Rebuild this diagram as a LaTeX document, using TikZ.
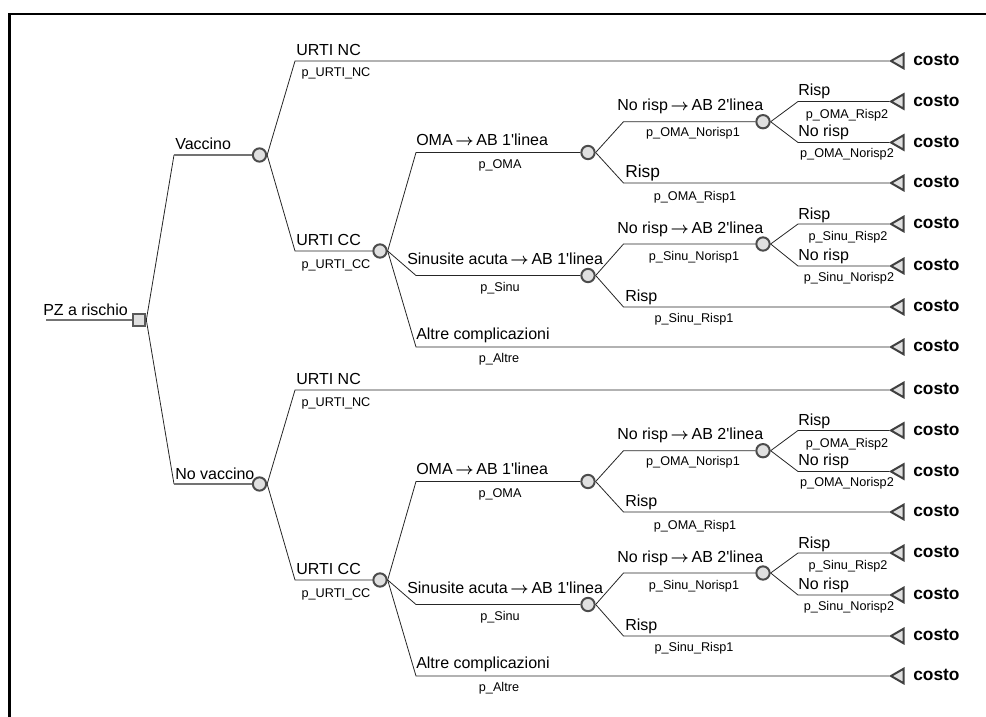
\documentclass[tikz,border=0pt]{standalone}
\usepackage{amsmath}
\usepackage{fontspec}
\setmainfont{Liberation Sans}
\usetikzlibrary{shapes.geometric}

\newcommand{\freccia}{\,$\boldsymbol{\rightarrow}$\,}

\begin{document}
\begin{tikzpicture}[
        x=0.75pt, y=-0.75pt,
        lab/.style={inner sep=0, anchor=base west, font=\fontsize{12}{14}\selectfont},
        plab/.style={inner sep=0, anchor=base, font=\fontsize{9.5}{11}\selectfont},
        costlab/.style={inner sep=0, anchor=mid west, font=\fontsize{13}{15}\selectfont\bfseries},
        chance/.style={circle, draw=black!70, fill=black!12, line width=1.5pt, minimum size=10pt, inner sep=0},
        decision/.style={rectangle, draw=black!65, fill=black!12, line width=2pt, minimum size=9pt, inner sep=0},
        terminal/.style={regular polygon, regular polygon sides=3, shape border rotate=90, anchor=corner 1,
            draw=black!75, fill=black!12, line width=1.5pt, minimum size=12.5pt, inner sep=0},
        branch/.style={draw=black!85, line width=0.6pt},
        trunk/.style={draw=black!55, line width=1pt}
    ]
    \useasboundingbox (0,0) rectangle (986,717);
    \draw[line width=2pt] (9.5,717) -- (9.5,14) -- (986,14);

    \coordinate (start) at (46,320);
    \node[decision] (root) at (139,320) {};
    \draw[trunk] (start) -- (root);
    \node[lab] (rootlab) at (43,315) {PZ a rischio};

    \foreach \dy/\h/\arm/\rsz in {0/v/Vaccino/13, 329/n/No vaccino/12} {
        % terminali
        \foreach \ty [count=\k] in {61,101.5,142.5,183,224,266,307,347} {
            \node[terminal] (\h-t\k) at (889,\ty+\dy) {};
            \node[costlab] (\h-c\k) at (913,\ty+1+\dy) {costo};
        }
        % braccio
        \node[chance] (\h-arm) at (259.5,155+\dy) {};
        \coordinate (\h-e0) at (174,155+\dy);
        \draw[branch] (root.east) -- (\h-e0);
        \draw[trunk] (\h-e0) -- (\h-arm);
        \node[lab] (\h-armlab) at (175,150+\dy) {\arm};
        % URTI NC
        \coordinate (\h-e1) at (295,61+\dy);
        \draw[branch] (\h-arm.east) -- (\h-e1) -- (\h-t1);
        \node[lab] (\h-l1) at (296,55.7+\dy) {URTI NC};
        \node[plab] (\h-p1) at (336,77+\dy) {p\_URTI\_NC};
        % URTI CC
        \node[chance] (\h-cc) at (380,251+\dy) {};
        \coordinate (\h-e2) at (295,251+\dy);
        \draw[branch] (\h-arm.east) -- (\h-e2) -- (\h-cc);
        \node[lab] (\h-l2) at (296,245.5+\dy) {URTI CC};
        \node[plab] (\h-p2) at (336,268+\dy) {p\_URTI\_CC};
        % OMA
        \node[chance] (\h-oma) at (588,152.5+\dy) {};
        \coordinate (\h-e3) at (416,152.5+\dy);
        \draw[branch] (\h-cc.east) -- (\h-e3) -- (\h-oma);
        \node[lab] (\h-l3) at (416,145.5+\dy) {OMA\freccia AB 1\textquotesingle linea};
        \node[plab] (\h-p3) at (500,168.5+\dy) {p\_OMA};
        % Sinusite
        \node[chance] (\h-sinu) at (588,275.5+\dy) {};
        \coordinate (\h-e4) at (416,275.5+\dy);
        \draw[branch] (\h-cc.east) -- (\h-e4) -- (\h-sinu);
        \node[lab] (\h-l4) at (407,264.5+\dy) {Sinusite acuta\freccia AB 1\textquotesingle linea};
        \node[plab] (\h-p4) at (500,291.7+\dy) {p\_Sinu};
        % Altre
        \coordinate (\h-e5) at (416,347+\dy);
        \draw[branch] (\h-cc.east) -- (\h-e5) -- (\h-t8);
        \node[lab] (\h-l5) at (416,339+\dy) {Altre complicazioni};
        \node[plab] (\h-p5) at (499,362.7+\dy) {p\_Altre};
        % OMA, seconda linea
        \node[chance] (\h-oma2) at (763,121.7+\dy) {};
        \coordinate (\h-e6) at (623.5,121.7+\dy);
        \draw[branch] (\h-oma.east) -- (\h-e6) -- (\h-oma2);
        \node[lab] (\h-l6) at (617,110.7+\dy) {No risp\freccia AB 2\textquotesingle linea};
        \node[plab] (\h-p6) at (693,136.7+\dy) {p\_OMA\_Norisp1};
        \coordinate (\h-e7) at (623.5,183+\dy);
        \draw[branch] (\h-oma.east) -- (\h-e7) -- (\h-t4);
        \node[lab, font=\fontsize{\rsz}{15}\selectfont] (\h-l7) at (625,177.3+\dy) {Risp};
        \node[plab] (\h-p7) at (695,200+\dy) {p\_OMA\_Risp1};
        \coordinate (\h-e8) at (798,101.5+\dy);
        \draw[branch] (\h-oma2.east) -- (\h-e8) -- (\h-t2);
        \node[lab] (\h-l8) at (798,96+\dy) {Risp};
        \node[plab] (\h-p8) at (847,118.3+\dy) {p\_OMA\_Risp2};
        \coordinate (\h-e9) at (798,142.5+\dy);
        \draw[branch] (\h-oma2.east) -- (\h-e9) -- (\h-t3);
        \node[lab] (\h-l9) at (798,136.7+\dy) {No risp};
        \node[plab] (\h-p9) at (847,157.3+\dy) {p\_OMA\_Norisp2};
        % Sinusite, seconda linea
        \node[chance] (\h-sinu2) at (763,244+\dy) {};
        \coordinate (\h-e10) at (623.5,244+\dy);
        \draw[branch] (\h-sinu.east) -- (\h-e10) -- (\h-sinu2);
        \node[lab] (\h-l10) at (617,233.3+\dy) {No risp\freccia AB 2\textquotesingle linea};
        \node[plab] (\h-p10) at (694,260+\dy) {p\_Sinu\_Norisp1};
        \coordinate (\h-e11) at (623.5,307+\dy);
        \draw[branch] (\h-sinu.east) -- (\h-e11) -- (\h-t7);
        \node[lab] (\h-l11) at (625,301.7+\dy) {Risp};
        \node[plab] (\h-p11) at (694,322.7+\dy) {p\_Sinu\_Risp1};
        \coordinate (\h-e12) at (798,224+\dy);
        \draw[branch] (\h-sinu2.east) -- (\h-e12) -- (\h-t5);
        \node[lab] (\h-l12) at (798,219+\dy) {Risp};
        \node[plab] (\h-p12) at (848,240+\dy) {p\_Sinu\_Risp2};
        \coordinate (\h-e13) at (798,266+\dy);
        \draw[branch] (\h-sinu2.east) -- (\h-e13) -- (\h-t6);
        \node[lab] (\h-l13) at (798,260+\dy) {No risp};
        \node[plab] (\h-p13) at (849,281.7+\dy) {p\_Sinu\_Norisp2};
    }
\end{tikzpicture}
\end{document}
